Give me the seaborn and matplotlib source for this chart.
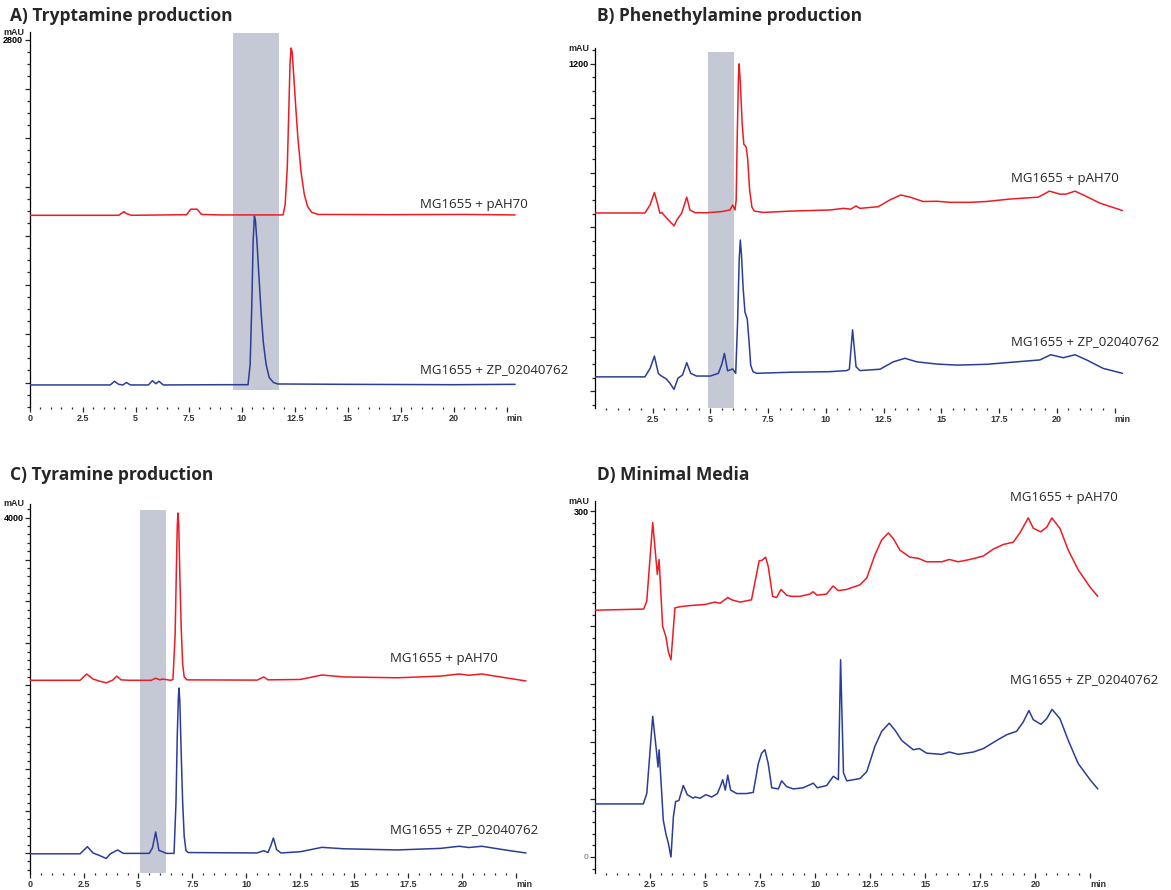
# chromatograms.py
# HPLC traces for the four amine production runs, redrawn with seaborn

import numpy as np
import matplotlib
matplotlib.use("Agg")
from matplotlib import pyplot as plt
import seaborn as sns

sns.set_style("white")
plt.rcParams["font.family"] = ["Open Sans", "DejaVu Sans"]

W, H = 1171, 890
RED = "#ed1c24"
BLUE = "#2b3d97"
BAND = "#c5c9d6"
TICKFONT = ["Liberation Sans", "DejaVu Sans"]

LABEL_RED = "MG1655 + pAH70"
LABEL_BLUE = "MG1655 + ZP_02040762"

# ---- A) Tryptamine production (min, mAU) ----
A_RED_T = [0, 4.2, 4.45, 4.55, 4.8, 7.4, 7.6, 7.9, 8.1, 9.0, 11.95, 12.05, 12.15, 12.22, 12.28,
           12.33, 12.38, 12.45, 12.55, 12.65, 12.8, 12.95, 13.1, 13.3, 13.6, 17.0, 20.5, 22.9]
A_RED_V = [1365, 1365, 1395, 1380, 1365, 1370, 1415, 1415, 1372, 1368, 1368, 1450, 1750, 2200, 2600,
           2731, 2700, 2520, 2250, 2000, 1720, 1540, 1440, 1390, 1372, 1370, 1372, 1368]
A_BLUE_T = [0, 3.8, 4.0, 4.2, 4.4, 4.56, 4.75, 5.6, 5.79, 5.95, 6.1, 6.3, 9.0, 10.3, 10.4,
            10.48, 10.54, 10.6, 10.65, 10.72, 10.82, 10.92, 11.02, 11.15, 11.3, 11.5, 11.7,
            15.0, 20.0, 22.9]
A_BLUE_V = [-20, -20, 10, -15, -20, 0, -20, -20, 15, -10, 10, -20, -18, -18, 150,
            650, 1150, 1359, 1320, 1150, 850, 560, 330, 150, 40, 0, -12,
            -15, -18, -15]
A_BAND = (9.6, 11.76, -61, 2853)

# ---- B) Phenethylamine production ----
B_RED_T = [0, 2.17, 2.39, 2.58, 2.71, 2.82, 2.9, 3.08, 3.26, 3.43, 3.57, 3.76, 3.98, 4.12,
           4.34, 4.84, 5.49, 5.85, 5.97, 6.07, 6.12, 6.17, 6.22, 6.25, 6.3, 6.38, 6.45, 6.55,
           6.62, 6.7, 6.8, 6.9, 7.3, 8.5,
           10.18, 10.76, 11.08, 11.31, 11.48, 12.27, 12.78, 13.24, 13.65, 14.22, 14.8, 15.38,
           16.24, 16.94, 17.97, 19.2, 19.68, 20.14, 20.4, 20.79, 21.15, 21.87, 22.84]
B_RED_V = [653, 653, 682, 728, 689, 652, 655, 637, 621, 606, 630, 652, 711, 664,
           654, 654, 658, 664, 682, 664, 700, 950, 1150, 1199, 1130, 980, 905, 895,
           850, 740, 675, 660, 655, 660,
           664, 670, 667, 679, 670, 676, 701, 719, 711, 695, 696, 692,
           692, 695, 704, 711, 733, 722, 722, 733, 719, 689, 662]
B_BLUE_T = [0, 2.17, 2.4, 2.58, 2.75, 2.85, 3.1, 3.25, 3.43, 3.6, 3.8, 3.98, 4.15, 4.4, 5.0,
            5.35, 5.5, 5.61, 5.75, 5.97, 6.1, 6.18, 6.25, 6.3, 6.35, 6.42, 6.5, 6.6, 6.68,
            6.75, 6.85, 7.0, 8.5,
            10.18, 10.9, 11.02, 11.16, 11.31, 11.48, 12.35, 12.92, 13.43, 13.94, 14.8, 15.67,
            16.97, 18.26, 19.27, 19.74, 20.28, 20.79, 21.29, 22.01, 22.84]
B_BLUE_V = [53, 53, 85, 129, 66, 58, 45, 30, 7, 48, 60, 105, 66, 56, 56,
            66, 100, 139, 75, 82, 66, 250, 480, 554, 500, 380, 290, 265, 180,
            95, 72, 66, 70,
            72, 76, 81, 225, 90, 76, 81, 108, 121, 108, 100, 96,
            99, 108, 115, 134, 123, 134, 115, 84, 66]
B_BAND = (4.92, 6.04, -61, 1243)

# ---- C) Tyramine production ----
C_RED_T = [0, 2.3, 2.6, 2.9, 3.2, 3.5, 3.8, 4.0, 4.2, 4.6, 5.6, 5.8, 6.0, 6.1, 6.5, 6.6,
           6.7, 6.76, 6.8, 6.83, 6.87, 6.92, 6.98, 7.05, 7.12, 7.25, 10.5, 10.8, 11.0, 12.5,
           13.5, 14.5, 17.0, 19.0, 19.85, 20.3, 20.9, 22.0, 22.94]
C_RED_V = [2060, 2060, 2135, 2075, 2050, 2030, 2060, 2110, 2065, 2060, 2060, 2085, 2065, 2075,
           2060, 2070, 2600, 3400, 3900, 4056, 3900, 3300, 2700, 2250, 2100, 2065, 2062, 2100,
           2065, 2070, 2123, 2100, 2090, 2110, 2135, 2120, 2135, 2090, 2052]
C_BLUE_T = [0, 2.3, 2.64, 2.9, 3.2, 3.51, 3.7, 4.04, 4.3, 5.5, 5.65, 5.8, 5.95, 6.08, 6.3,
            6.65, 6.74, 6.8, 6.85, 6.88, 6.92, 6.98, 7.05, 7.12, 7.2, 7.3, 10.5, 10.8, 11.0,
            11.12, 11.25, 11.4, 11.6, 12.5, 13.5, 14.5, 17.0, 19.0, 19.85, 20.3, 20.9, 22.0,
            22.94]
C_BLUE_V = [-10, -10, 75, 0, -30, -66, -10, 36, -5, -5, 60, 250, 30, 18, -5,
            -5, 600, 1400, 1850, 1968, 1800, 1200, 600, 200, 30, 5, 0, 27, 5,
            80, 179, 40, 0, 15, 67, 50, 36, 55, 80, 65, 80, 35,
            0]
C_BAND = (5.07, 6.29, -239, 4092)

# ---- D) Minimal Media ----
D_RED_T = [0, 2.2, 2.34, 2.61, 2.82, 2.9, 3.06, 3.21, 3.32, 3.44, 3.62, 3.85, 4.3, 4.99,
           5.44, 5.67, 6.02, 6.2, 6.58, 7.1, 7.45, 7.56, 7.74, 7.86, 8.06, 8.24, 8.44, 8.7,
           8.92, 9.3, 9.75, 9.9, 10.08, 10.51, 10.81, 11.04, 11.42, 12.03, 12.34, 12.71,
           13.02, 13.32, 13.55, 13.85, 14.3, 14.68, 15.06, 15.75, 16.09, 16.5, 17.03, 17.64,
           18.09, 18.55, 19.0, 19.3, 19.68, 19.91, 20.25, 20.52, 20.75, 21.12, 21.5, 21.95,
           22.49, 22.84]
D_RED_V = [214, 215, 222, 290, 245, 258, 200, 191, 178, 171, 216, 217, 218, 219,
           221, 220, 225, 223, 221, 223, 257, 257, 260, 252, 226, 225, 232, 227,
           226, 226, 228, 230, 227, 228, 235, 231, 232, 236, 242, 262,
           275, 281, 276, 266, 260, 259, 256, 256, 258, 256, 258, 261,
           267, 271, 273, 281, 294, 285, 282, 286, 294, 285, 266, 249,
           234, 226]
D_BLUE_T = [0, 2.18, 2.34, 2.61, 2.79, 2.85, 2.9, 3.02, 3.09, 3.21, 3.32, 3.44, 3.55, 3.65,
            3.8, 4.0, 4.18, 4.45, 4.53, 4.76, 5.03, 5.29, 5.55, 5.7, 5.79, 5.91, 6.02, 6.15,
            6.43, 6.65, 6.88, 7.18, 7.41, 7.56, 7.71, 7.86, 8.02, 8.32, 8.47, 8.7, 9.0, 9.45,
            9.91, 10.09, 10.52, 10.82, 11.05, 11.15, 11.28, 11.43, 12.03, 12.34, 12.71, 13.02,
            13.36, 13.62, 13.93, 14.45, 14.73, 15.06, 15.75, 16.09, 16.5, 17.18, 17.64, 18.24,
            18.7, 19.15, 19.45, 19.71, 19.91, 20.26, 20.52, 20.76, 21.12, 21.5, 21.95, 22.49,
            22.84]
D_BLUE_V = [46, 46, 55, 122, 90, 78, 93, 55, 32, 20, 12, 0, 35, 48,
            49, 62, 54, 51, 52, 51, 54, 52, 55, 62, 67, 58, 71, 58,
            55, 55, 55, 56, 81, 90, 93, 81, 60, 59, 66, 61, 59, 60,
            64, 60, 62, 70, 67, 171, 73, 66, 68, 74, 96, 109,
            116, 110, 101, 93, 94, 90, 89, 91, 89, 91, 94, 101,
            106, 109, 117, 127, 119, 115, 120, 128, 120, 101, 81, 67,
            59]

PANELS = [
    dict(title="A) Tryptamine production", title_xy=(10, 16),
         box=(29.7, 32.3, 521.5, 407), ylim=(-200, 2859), ymaj=400, ymin=100, ytop=2800,
         xzero=True, red=(A_RED_T, A_RED_V), blue=(A_BLUE_T, A_BLUE_V), band=A_BAND,
         lab_x=18.41, lab_red=1457, lab_blue=102),
    dict(title="B) Phenethylamine production", title_xy=(597, 16),
         box=(594.8, 48.3, 1130.7, 408), ylim=(-61, 1256), ymaj=200, ymin=50, ytop=1200,
         xzero=False, red=(B_RED_T, B_RED_V), blue=(B_BLUE_T, B_BLUE_V), band=B_BAND,
         lab_x=18.02, lab_red=781, lab_blue=181),
    dict(title="C) Tyramine production", title_xy=(10, 475),
         box=(30.4, 504, 531.5, 873), ylim=(-239, 4163), ymaj=500, ymin=100, ytop=4000,
         xzero=True, red=(C_RED_T, C_RED_V), blue=(C_BLUE_T, C_BLUE_V), band=C_BAND,
         lab_x=16.65, lab_red=2314, lab_blue=274),
    dict(title="D) Minimal Media", title_xy=(597, 475),
         box=(595.3, 501, 1105.7, 873), ylim=(-13.9, 308.7), ymaj=50, ymin=10, ytop=300,
         xzero=False, red=(D_RED_T, D_RED_V), blue=(D_BLUE_T, D_BLUE_V), band=None,
         lab_x=18.85, lab_red=312, lab_blue=153.5, zero_label=True),
]


def draw_panel(fig, p):
    left, top, right, bottom = p["box"]
    ax = fig.add_axes([left / W, 1 - bottom / H, (right - left) / W, (bottom - top) / H])
    ax.set_xlim(0, 23.2)
    ax.set_ylim(*p["ylim"])

    if p["band"] is not None:
        t0, t1, v0, v1 = p["band"]
        ax.fill_between([t0, t1], [v0, v0], [v1, v1], color=BAND, linewidth=0, zorder=1)

    for (t, v), col in ((p["red"], RED), (p["blue"], BLUE)):
        sns.lineplot(x=t, y=v, ax=ax, color=col, linewidth=1.1,
                     estimator=None, errorbar=None, legend=False, zorder=3)

    ax.text(p["lab_x"], p["lab_red"], LABEL_RED, fontsize=9.5, va="center", ha="left")
    ax.text(p["lab_x"], p["lab_blue"], LABEL_BLUE, fontsize=9.5, va="center", ha="left")

    # spines: only the left one
    for side in ("top", "right", "bottom"):
        ax.spines[side].set_visible(False)
    ax.spines["left"].set_linewidth(0.9)
    ax.spines["left"].set_color("black")
    ax.set_xlabel("")
    ax.set_ylabel("")
    ax.grid(False)

    # x ticks
    start = 0 if p["xzero"] else 2.5
    xmaj = np.arange(start, 22.51, 2.5)
    xmin = np.arange(0.5, 22.51, 0.5)
    ax.set_xticks(xmaj)
    ax.set_xticks(xmin, minor=True)
    xlabels = [f"{v:g}" for v in xmaj[:-1]] + ["min"]
    ax.set_xticklabels(xlabels, fontsize=6.5, fontweight="bold", color="#333333",
                       family=TICKFONT)
    ax.get_xticklabels()[-1].set_horizontalalignment("left")
    ax.tick_params(axis="x", which="major", direction="out", length=3.5, width=0.9,
                   pad=1.5, bottom=True)
    ax.tick_params(axis="x", which="minor", direction="out", length=1.5, width=0.9,
                   bottom=True)

    # y ticks
    lo, hi = p["ylim"]
    ymaj = np.arange(0, hi, p["ymaj"])
    ymin = np.arange(np.ceil(lo / p["ymin"]) * p["ymin"], hi, p["ymin"])
    ax.set_yticks(ymaj)
    ax.set_yticks(ymin, minor=True)
    ylabels = ["" for _ in ymaj]
    ylabels[-1] = f"{p['ytop']:g}"
    if p.get("zero_label"):
        ylabels[0] = "0"
    ax.set_yticklabels(ylabels, fontsize=6.5, fontweight="bold", color="black",
                       family=TICKFONT)
    if p.get("zero_label"):
        zl = ax.get_yticklabels()[0]
        zl.set_fontweight("normal")
        zl.set_color("#666666")
        zl.set_fontsize(6)
    ax.tick_params(axis="y", which="major", direction="out", length=3.8, width=0.9,
                   pad=1, left=True)
    ax.tick_params(axis="y", which="minor", direction="out", length=2.2, width=0.9,
                   left=True)

    ax.annotate("mAU", xy=(0, 1), xycoords="axes fraction", xytext=(-4, 0),
                textcoords="offset points", ha="right", va="center",
                fontsize=6.5, fontweight="bold", family=TICKFONT)

    tx, ty = p["title_xy"]
    fig.text(tx / W, 1 - ty / H, p["title"], ha="left", va="center",
             fontsize=12.5, fontweight="bold")
    return ax


def main():
    fig = plt.figure(figsize=(W / 100, H / 100), dpi=100)
    fig.patch.set_facecolor("white")
    for p in PANELS:
        draw_panel(fig, p)
    fig.savefig("out.png", dpi=100, facecolor="white")


if __name__ == "__main__":
    main()
